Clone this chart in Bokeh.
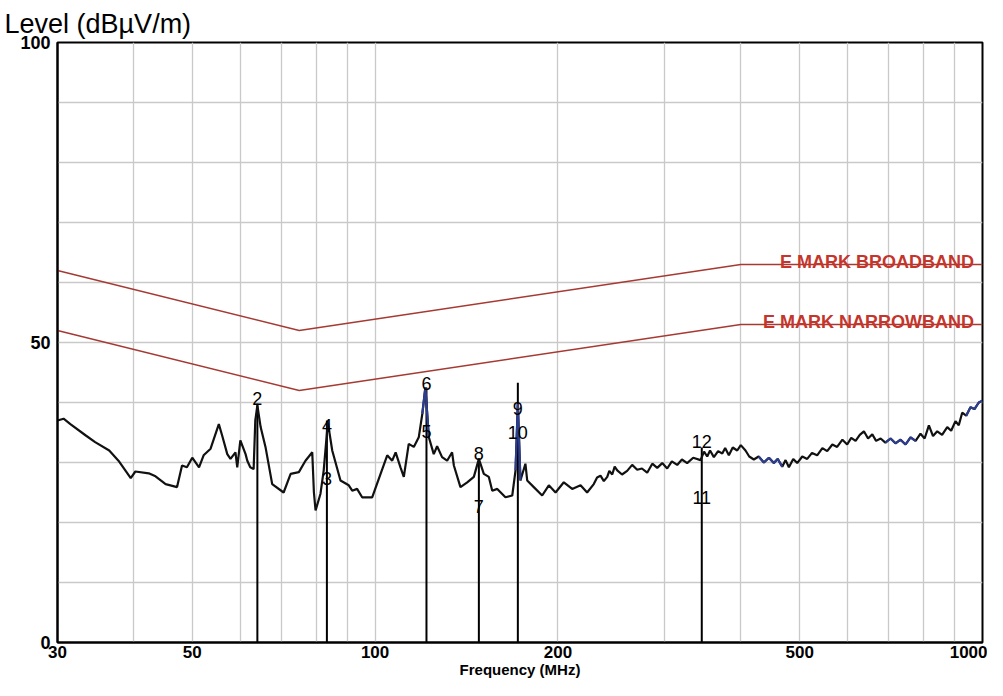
from bokeh.plotting import figure
from bokeh.models import Range1d, FixedTicker, ColumnDataSource
from bokeh.core.properties import value
from bokeh.embed import file_html
from bokeh.resources import INLINE

# ---------------- data ----------------
freq_mhz = [30.0, 30.7, 31.5, 33.4, 34.6, 36.5, 37.8, 39.6, 40.3, 42.4, 43.5, 45.2, 47.2, 48.1, 49.0,
            50.0, 51.3, 52.2, 53.6, 55.3, 56.0, 57.1, 57.8, 58.9, 59.3, 60.0, 61.2, 61.6, 62.3, 63.1,
            63.5, 64.0, 64.8, 66.0, 67.7, 70.7, 72.6, 74.9, 76.8, 78.8, 79.3, 79.8, 81.3, 82.3, 83.6,
            85.0, 87.7, 90.5, 91.7, 93.4, 95.2, 98.9, 102.1, 104.7, 106.7, 108.1, 110.1, 111.5, 113.6,
            115.8, 118.0, 119.6, 121.0, 122.6, 124.9, 126.5, 128.9, 131.4, 133.9, 134.8, 138.2, 141.8,
            145.4, 148.2, 151.0, 153.9, 155.9, 158.9, 163.9, 168.2, 170.3, 171.8, 173.5, 176.8, 178.0,
            182.5, 188.4, 193.2, 198.2, 204.5, 211.1, 217.9, 223.4, 229.1, 232.0, 235.0, 238.0, 241.1,
            243.0, 245.7, 248.0, 250.4, 255.0, 260.0, 265.0, 270.1, 275.0, 280.5, 286.0, 291.4, 297.0,
            302.6, 308.0, 314.3, 320.0, 326.4, 334.0, 343.4, 348.0, 352.2, 356.0, 361.2, 367.0, 372.9,
            377.0, 382.3, 388.0, 394.6, 400.0, 407.2, 413.0, 420.3, 428.0, 436.6, 445.0, 453.4, 460.0,
            468.1, 474.0, 480.0, 488.0, 495.4, 505.0, 514.5, 524.0, 534.3, 545.0, 555.0, 566.0, 576.3,
            588.0, 598.7, 608.0, 618.1, 628.0, 637.9, 648.0, 658.5, 668.0, 679.6, 692.0, 705.7, 719.0,
            733.0, 747.0, 761.2, 776.0, 790.5, 803.0, 816.1, 829.0, 842.4, 858.0, 874.9, 888.0, 902.6,
            914.0, 925.9, 940.0, 955.5, 970.0, 986.1, 1000.0]
level_dbuv = [37.0, 37.3, 36.4, 34.5, 33.4, 32.0, 30.3, 27.4, 28.5, 28.2, 27.7, 26.4, 25.9, 29.5, 29.2,
              30.8, 29.2, 31.2, 32.3, 36.4, 34.5, 31.4, 30.6, 31.7, 29.2, 33.7, 31.4, 30.3, 29.2, 28.9,
              37.0, 39.5, 35.9, 32.6, 26.4, 25.0, 28.1, 28.4, 30.3, 31.7, 25.0, 22.0, 24.8, 28.7, 36.7,
              32.0, 27.0, 26.2, 25.3, 25.6, 24.2, 24.2, 28.1, 31.2, 30.3, 31.7, 29.2, 27.6, 33.1,
              32.6, 34.2, 38.1, 42.5, 34.2, 31.4, 32.7, 30.9, 30.3, 31.7, 29.5, 25.9, 26.7,
              27.6, 30.6, 28.1, 27.6, 25.3, 25.6, 24.2, 24.5, 28.7, 39.8, 27.0, 29.8, 27.0,
              25.9, 24.5, 26.2, 25.0, 26.7, 25.6, 26.2, 25.0, 26.4, 27.5, 27.8, 26.9, 27.6,
              28.6, 28.0, 29.3, 28.7, 28.0, 28.6, 29.6, 28.8, 29.0, 28.3, 29.8, 29.1, 29.9,
              29.0, 30.2, 29.6, 30.5, 29.9, 30.8, 30.4, 31.8, 31.0, 32.0, 30.9, 31.9, 31.5,
              32.4, 31.2, 32.5, 32.0, 32.9, 32.0, 31.0, 30.5, 31.0, 30.0, 30.8, 29.9, 30.6,
              29.3, 30.4, 29.2, 30.6, 29.9, 31.0, 30.6, 31.6, 31.2, 32.4, 31.9, 33.0, 32.6,
              33.8, 33.0, 34.1, 33.6, 34.6, 35.2, 34.0, 34.7, 33.6, 34.0, 33.3, 34.0, 33.2,
              33.8, 33.0, 34.2, 33.6, 34.8, 34.0, 36.2, 34.4, 35.2, 34.6, 35.9, 35.3, 36.9,
              36.2, 38.3, 37.8, 39.2, 38.9, 40.0, 40.3]

# frequency ranges where the trace is drawn in blue
blue_ranges = [(119.0, 123.0), (170.0, 174.0), (425.0, 470.0), (690.0, 790.0), (930.0, 1000.0)]

# limit lines
limit_freq = [30, 75, 400, 1000]
broadband_level = [62, 52, 63, 63]
narrowband_level = [52, 42, 53, 53]
limit_names = ["E MARK BROADBAND", "E MARK NARROWBAND"]

# marker lines
marker_freq = [64.0, 83.3, 121.5, 148.2, 171.8, 345.0]
marker_top = [39.8, 37.0, 42.5, 30.7, 43.3, 32.5]

# marker labels
mark_text = ["2", "4", "3", "6", "5", "8", "7", "10", "9", "12", "11"]
mark_freq = [64.0, 83.3, 83.3, 121.5, 121.5, 148.2, 148.2, 171.8, 171.8, 345.0, 345.0]
mark_level = [40.7, 36.2, 27.3, 43.2, 35.2, 31.5, 22.7, 35.0, 39.0, 33.5, 24.2]

x_ticks = [30, 50, 100, 200, 500, 1000]
x_tick_labels = ["30", "50", "100", "200", "500", "1000"]
x_grid = [30, 40, 50, 60, 70, 80, 90, 100, 200, 300, 400, 500, 600, 700, 800, 900, 1000]
y_ticks = [0, 50, 100]
y_grid = [0, 10, 20, 30, 40, 50, 60, 70, 80, 90, 100]

# ---------------- figure ----------------
FONT = "Liberation Sans"
p = figure(width=987, height=680, x_axis_type="log",
           x_range=Range1d(30, 1000), y_range=Range1d(0, 100),
           output_backend="svg", toolbar_location=None,
           min_border_left=57, min_border_right=5, min_border_top=42, min_border_bottom=38)
p.background_fill_color = "white"
p.border_fill_color = "white"
p.outline_line_color = "black"
p.outline_line_width = 2

p.title.text = "Level (dBµV/m)"
p.title.align = "left"
p.title.offset = -53
p.title.standoff = 8
p.title.text_font = FONT
p.title.text_font_style = "normal"
p.title.text_font_size = "27px"
p.title.text_color = "black"

for ax in (p.xaxis[0], p.yaxis[0]):
    ax.axis_line_color = "black"
    ax.axis_line_width = 2
    ax.major_tick_out = 0
    ax.major_tick_in = 0
    ax.minor_tick_out = 0
    ax.minor_tick_in = 0
    ax.major_label_text_font = FONT
    ax.major_label_text_font_style = "bold"
    ax.major_label_text_font_size = "17px"
    ax.major_label_text_color = "black"

p.xaxis.ticker = FixedTicker(ticks=x_ticks)
p.xaxis.major_label_overrides = {float(t): s for t, s in zip(x_ticks, x_tick_labels)}
p.xaxis.major_label_standoff = 3
p.xaxis.axis_label = "Frequency (MHz)"
p.xaxis.axis_label_standoff = 0
p.xaxis.axis_label_text_font = FONT
p.xaxis.axis_label_text_font_style = "bold"
p.xaxis.axis_label_text_font_size = "15px"
p.xaxis.axis_label_text_color = "black"
p.yaxis.ticker = FixedTicker(ticks=y_ticks)
p.yaxis.major_label_standoff = 7
p.yaxis.major_label_text_font_size = "18px"

p.xgrid.ticker = FixedTicker(ticks=x_grid)
p.ygrid.ticker = FixedTicker(ticks=y_grid)
for g in (p.xgrid[0], p.ygrid[0]):
    g.grid_line_color = "#c9c9c9"
    g.grid_line_width = 1.3

# limit lines
limit_color = "#a63a32"
p.line(limit_freq, broadband_level, line_color=limit_color, line_width=1.6)
p.line(limit_freq, narrowband_level, line_color=limit_color, line_width=1.6)

# marker vertical lines
p.segment(x0=marker_freq, y0=[0] * len(marker_freq), x1=marker_freq, y1=marker_top,
          line_color="black", line_width=2)

# trace
p.line(freq_mhz, level_dbuv, line_color="#111111", line_width=2.2)
for lo, hi in blue_ranges:
    xs = [f for f in freq_mhz if lo <= f <= hi]
    ys = [l for f, l in zip(freq_mhz, level_dbuv) if lo <= f <= hi]
    p.line(xs, ys, line_color="#2c3d8f", line_width=2.2)

# marker labels
src = ColumnDataSource(dict(x=mark_freq, y=mark_level, t=mark_text))
p.text(x="x", y="y", text="t", source=src, text_align="center", text_baseline="middle",
       text_font=value(FONT), text_font_size="18px", text_color="black")

# limit names
p.text(x=[968, 968], y=[broadband_level[-1], narrowband_level[-1]],
       text=limit_names,
       text_align="right", text_baseline="alphabetic", y_offset=-3,
       text_font=value(FONT), text_font_style="bold", text_font_size="18px",
       text_color="#c4352b")

open("out.html", "w").write(file_html(p, INLINE))
